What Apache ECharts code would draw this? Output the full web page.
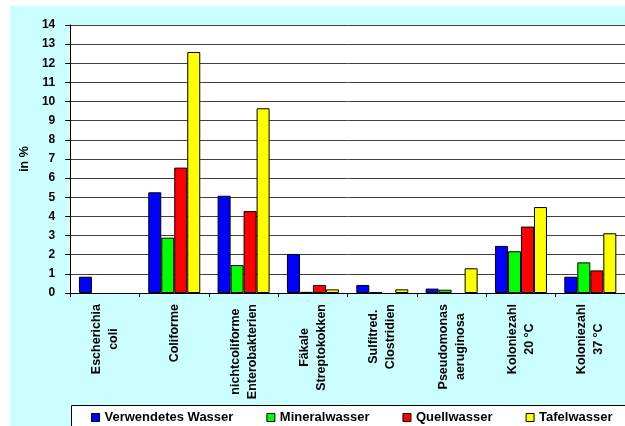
<!DOCTYPE html>
<html>
<head>
<meta charset="utf-8">
<title>Keimbefunde</title>
<script src="https://cdn.jsdelivr.net/npm/echarts@6/dist/echarts.min.js"></script>
<style>
    html, body {margin: 0; padding: 0; background: #fff; overflow: hidden;}
    #mychart {position: absolute; left: 10px; top: 6px; width: 615px; height: 420px; background: #ccffff;}
</style>
</head>
<body>
<div id="mychart"></div>
<script>
// Kategorien (x-Achse)
var categories = ['Escherichia\ncoli', 'Coliforme', 'nichtcoliforme\nEnterobakterien', 'F\u00e4kale\nStreptokokken',
    'Sulfitred.\nClostridien', 'Pseudomonas\naeruginosa', 'Koloniezahl\n20 \u00b0C', 'Koloniezahl\n37 \u00b0C'];
var seriesNames = ['Verwendetes Wasser', 'Mineralwasser', 'Quellwasser', 'Tafelwasser'];
// Werte in %
var verwendetesWasser = [0.85, 5.26, 5.08, 2.04, 0.42, 0.23, 2.46, 0.85];
var mineralwasser = [0, 2.89, 1.46, 0.06, 0.03, 0.17, 2.18, 1.6];
var quellwasser = [0, 6.55, 4.28, 0.42, 0, 0, 3.47, 1.18];
var tafelwasser = [0, 12.59, 9.65, 0.19, 0.19, 1.29, 4.49, 3.12];
var yMin = 0, yMax = 14, yStep = 1;

var font = 'Arial, "Liberation Sans", sans-serif';
var colors = ['#0000ff', '#00ff00', '#ff0000', '#ffff00'];
var values = [verwendetesWasser, mineralwasser, quellwasser, tafelwasser];

var myChart = echarts.init(document.getElementById('mychart'));

var option = {
    animation: false,
    textStyle: {fontFamily: font},
    grid: {
        left: 57,
        top: 19,
        width: 562,
        height: 268,
        show: true,
        backgroundColor: '#fff',
        borderWidth: 0
    },
    // Legendenrahmen geht rechts ueber den Rand hinaus
    graphic: [{
        type: 'rect',
        left: 61,
        top: 399,
        z: -1,
        shape: {width: 600, height: 40},
        style: {fill: '#fff', stroke: '#000', lineWidth: 1}
    }],
    legend: {
        type: 'plain',
        orient: 'horizontal',
        data: seriesNames,
        left: 61,
        top: 399,
        width: 600,
        icon: 'rect',
        itemWidth: 8,
        itemHeight: 8,
        itemGap: 33,
        padding: [6, 0, 10, 20],
        itemStyle: {borderColor: '#000', borderWidth: 1},
        textStyle: {fontFamily: font, fontSize: 13, fontWeight: 'bold', color: '#000'}
    },
    xAxis: {
        type: 'category',
        data: categories,
        axisLine: {lineStyle: {color: '#000', width: 1}},
        axisTick: {show: true, length: 4, lineStyle: {color: '#000'}},
        axisLabel: {
            interval: 0,
            rotate: 90,
            margin: 11,
            color: '#000',
            fontFamily: font,
            fontSize: 12.5,
            fontWeight: 'bold',
            lineHeight: 17,
            // jede Zeile mittig zueinander
            formatter: function (val) {
                return val.split('\n').map(function (s) {
                    return '{c|' + s + '}';
                }).join('\n');
            },
            rich: {
                c: {align: 'center', fontFamily: font, fontSize: 12.5, fontWeight: 'bold', color: '#000', lineHeight: 17}
            }
        }
    },
    yAxis: {
        type: 'value',
        min: yMin,
        max: yMax,
        interval: yStep,
        name: 'in %',
        nameLocation: 'middle',
        nameGap: 35,
        nameTextStyle: {fontFamily: font, fontSize: 12.5, fontWeight: 'bold', color: '#000'},
        axisLine: {show: true, lineStyle: {color: '#000', width: 1}},
        axisTick: {show: true, length: 5, lineStyle: {color: '#000'}},
        axisLabel: {margin: 15, color: '#000', fontFamily: font, fontSize: 12, fontWeight: 'bold'},
        splitLine: {show: true, lineStyle: {color: '#404040', width: 1}}
    },
    series: seriesNames.map(function (name, i) {
        return {
            name: name,
            type: 'bar',
            // 0-Werte nicht als Strich zeichnen
            data: values[i].map(function (v) { return v === 0 ? '-' : v; }),
            barWidth: 13,
            barGap: '0%',
            itemStyle: {color: colors[i], borderColor: '#000', borderWidth: 1}
        };
    })
};

myChart.setOption(option);
</script>
</body>
</html>
